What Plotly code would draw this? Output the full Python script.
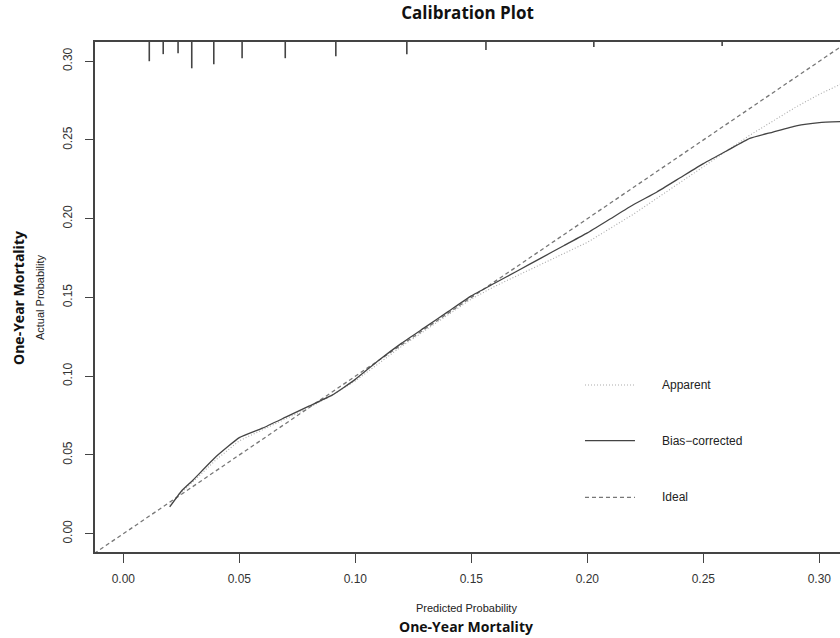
import plotly.graph_objects as go

# ---- data ----
pred_x = [0.020, 0.025, 0.030, 0.040, 0.050, 0.060, 0.070, 0.080, 0.090, 0.100,
          0.110, 0.120, 0.130, 0.140, 0.150, 0.160, 0.170, 0.180, 0.190, 0.200,
          0.210, 0.220, 0.230, 0.240, 0.250, 0.260, 0.270, 0.280, 0.290, 0.300, 0.310]
bias_corrected = [0.017, 0.027, 0.034, 0.049, 0.061, 0.067, 0.074, 0.081, 0.088, 0.098,
                  0.110, 0.121, 0.131, 0.141, 0.151, 0.159, 0.167, 0.175, 0.183, 0.191,
                  0.200, 0.209, 0.217, 0.226, 0.235, 0.243, 0.251, 0.255, 0.259, 0.261, 0.2617]
apparent = [0.018, 0.026, 0.033, 0.047, 0.059, 0.066, 0.073, 0.080, 0.088, 0.097,
            0.108, 0.119, 0.129, 0.139, 0.149, 0.157, 0.164, 0.171, 0.178, 0.185,
            0.194, 0.203, 0.213, 0.223, 0.233, 0.243, 0.253, 0.262, 0.271, 0.279, 0.286]
ideal_x = [-0.02, 0.33]
ideal_y = [-0.02, 0.33]

# distribution of predicted probabilities (rug at top)
rug_x = [0.0112, 0.0172, 0.0236, 0.0295, 0.0390, 0.0512, 0.0698, 0.0916,
         0.1222, 0.1563, 0.2028, 0.2581]
rug_freq = [19, 12, 11, 26, 22, 16, 16, 14, 12, 8, 5, 4]

x_ticks = [0.00, 0.05, 0.10, 0.15, 0.20, 0.25, 0.30]
y_ticks = [0.00, 0.05, 0.10, 0.15, 0.20, 0.25, 0.30]

X_RANGE = [-0.0122, 0.3089]
Y_RANGE = [-0.0116, 0.3122]

fig = go.Figure()

# rug
rug_scale = 0.0167 / max(rug_freq)
rx, ry = [], []
for xv, f in zip(rug_x, rug_freq):
    rx += [xv, xv, None]
    ry += [Y_RANGE[1], Y_RANGE[1] - f * rug_scale, None]
fig.add_trace(go.Scatter(x=rx, y=ry, mode="lines",
                         line=dict(color="#444444", width=1.6),
                         showlegend=False, hoverinfo="skip"))

fig.add_trace(go.Scatter(x=ideal_x, y=ideal_y, mode="lines", name="Ideal",
                         line=dict(color="#777777", width=1.3, dash="4px,3px"),
                         showlegend=False))
fig.add_trace(go.Scatter(x=pred_x, y=apparent, mode="lines", name="Apparent",
                         line=dict(color="#aaaaaa", width=1.1, dash="1px,2px"),
                         showlegend=False))
fig.add_trace(go.Scatter(x=pred_x, y=bias_corrected, mode="lines", name="Bias-corrected",
                         line=dict(color="#444444", width=1.3, shape="spline", smoothing=0.4),
                         showlegend=False))

# legend drawn inside plot
legend_items = [("Apparent", dict(color="#aaaaaa", width=1.1, dash="1px,2px"), 0.3275),
                ("Bias\u2212corrected", dict(color="#444444", width=1.3, dash="solid"), 0.2182),
                ("Ideal", dict(color="#777777", width=1.3, dash="4px,3px"), 0.1073)]
for label, ln, yp in legend_items:
    fig.add_shape(type="line", xref="paper", yref="paper",
                  x0=0.6577, x1=0.7248, y0=yp, y1=yp, line=ln)
    fig.add_annotation(text=label, xref="paper", yref="paper", x=0.7584, y=yp,
                       xanchor="left", yanchor="middle", showarrow=False,
                       font=dict(family="Liberation Sans, Arial", size=12, color="#222222"))

# axis titles
fig.add_annotation(text="Predicted Probability", xref="paper", yref="paper",
                   x=0.498, y=-0.1098, xanchor="center", yanchor="middle", showarrow=False,
                   font=dict(family="Liberation Sans, Arial", size=11, color="#222222"))
fig.add_annotation(text="<b>One-Year Mortality</b>", xref="paper", yref="paper",
                   x=0.498, y=-0.1451, xanchor="center", yanchor="middle", showarrow=False,
                   font=dict(family="Open Sans", size=14, color="#111111"))
fig.add_annotation(text="Actual Probability", xref="paper", yref="paper",
                   x=-0.0738, y=0.498, xanchor="center", yanchor="middle", showarrow=False,
                   textangle=-90,
                   font=dict(family="Liberation Sans, Arial", size=11, color="#222222"))
fig.add_annotation(text="<b>One-Year Mortality</b>", xref="paper", yref="paper",
                   x=-0.1034, y=0.498, xanchor="center", yanchor="middle", showarrow=False,
                   textangle=-90,
                   font=dict(family="Open Sans", size=14, color="#111111"))

fig.update_layout(
    width=840, height=638,
    margin=dict(l=95, r=0, t=42, b=86),
    paper_bgcolor="white", plot_bgcolor="white",
    title=dict(text="<b>Calibration Plot</b>", x=0.5, xref="paper", y=0.9796, yref="container",
               xanchor="center", yanchor="middle",
               font=dict(family="Open Sans", size=17, color="#111111")),
)
fig.update_xaxes(range=X_RANGE, tickvals=x_ticks, ticktext=[f"{v:.2f}" for v in x_ticks],
                 showgrid=False, zeroline=False, showline=True, mirror=True,
                 linecolor="#444444", linewidth=1.5, ticks="outside", ticklen=9,
                 tickcolor="#444444", tickwidth=1.2, ticklabelstandoff=6,
                 tickfont=dict(family="Liberation Sans, Arial", size=12, color="#333333"))
fig.update_yaxes(range=Y_RANGE, tickvals=y_ticks, ticktext=[f"{v:.2f}" for v in y_ticks],
                 showgrid=False, zeroline=False, showline=True, mirror=False,
                 linecolor="#444444", linewidth=1.5, ticks="outside", ticklen=8,
                 tickcolor="#444444", tickwidth=1.2, tickangle=-90, ticklabelstandoff=8,
                 tickfont=dict(family="Liberation Sans, Arial", size=12, color="#333333"))

fig.write_html("out.html")
